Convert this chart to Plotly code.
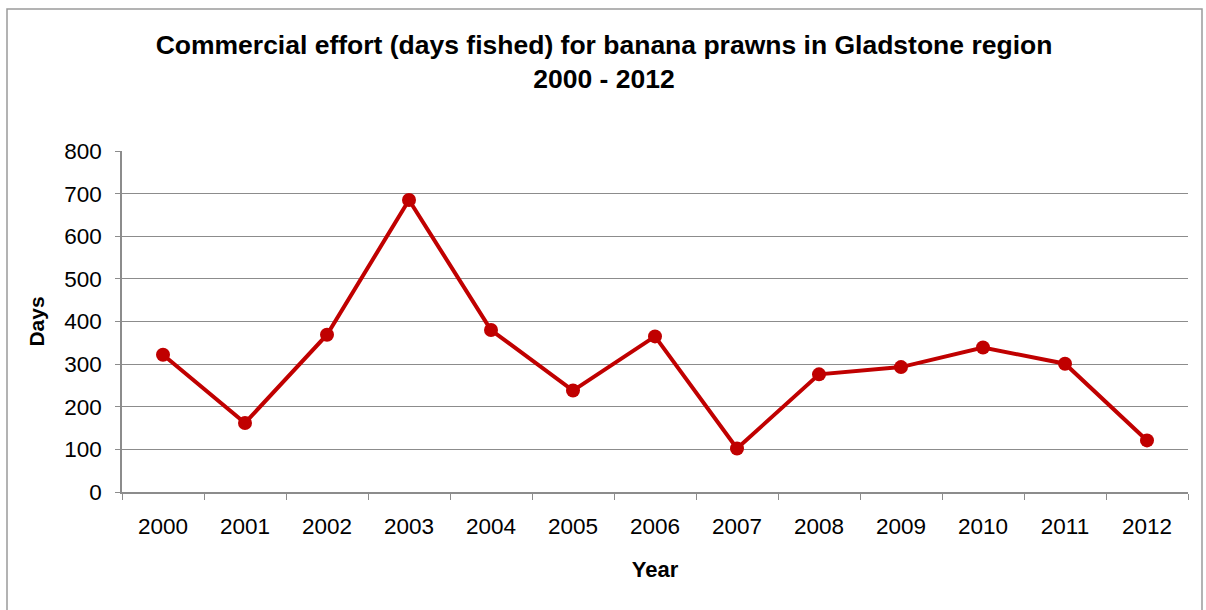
import plotly.graph_objects as go

years = ["2000", "2001", "2002", "2003", "2004", "2005", "2006",
         "2007", "2008", "2009", "2010", "2011", "2012"]
days_fished = [322, 162, 369, 685, 380, 238, 365, 102, 276, 293, 339, 301, 121]
y_ticks = [0, 100, 200, 300, 400, 500, 600, 700, 800]

RED = "#C00000"
GRID = "#8C8C8C"
FONT = "Liberation Sans, Arial, sans-serif"

fig = go.Figure()
fig.add_trace(go.Scatter(
    x=years, y=days_fished, mode="lines+markers",
    line=dict(color=RED, width=4),
    marker=dict(color=RED, size=14),
    showlegend=False, hoverinfo="x+y",
))

W, H = 1206, 610
L, R, T, B = 122, 18, 151, 118
pw, ph = W - L - R, H - T - B

fig.update_layout(
    width=W, height=H,
    margin=dict(l=L, r=R, t=T, b=B),
    paper_bgcolor="white", plot_bgcolor="white",
    font=dict(family=FONT, size=22.5, color="black"),
    title=dict(
        text="<b>Commercial effort (days fished) for banana prawns in Gladstone region<br>2000 - 2012</b>",
        x=604 / W, xanchor="center", y=1 - 54 / H, yanchor="top",
        font=dict(family=FONT, size=26.5, color="black"),
    ),
    xaxis=dict(
        type="category", range=[-0.5, 12.5],
        showline=True, linecolor=GRID, linewidth=1.5,
        ticks="outside", tickson="boundaries", ticklen=6, tickcolor=GRID,
        showgrid=False, tickfont=dict(size=22.5), ticklabelstandoff=13,
        title=dict(text="<b>Year</b>", font=dict(size=22), standoff=24),
    ),
    yaxis=dict(
        range=[0, 800], tickvals=y_ticks,
        showline=True, linecolor=GRID, linewidth=1.5,
        ticks="outside", ticklen=5, tickcolor=GRID,
        showgrid=True, gridcolor=GRID, gridwidth=1,
        zeroline=False, tickfont=dict(size=22.5), ticklabelstandoff=9,
        title=dict(text="<b>Days</b>", font=dict(size=21), standoff=14),
    ),
)

# outer chart frame
fig.add_shape(
    type="rect", xref="paper", yref="paper",
    x0=(7 - L) / pw, x1=(1202 - L) / pw,
    y0=(T + ph - 620) / ph, y1=(T + ph - 9) / ph,
    line=dict(color="#9A9A9A", width=1.5), fillcolor="rgba(0,0,0,0)",
    layer="below",
)

fig.write_html("out.html")
